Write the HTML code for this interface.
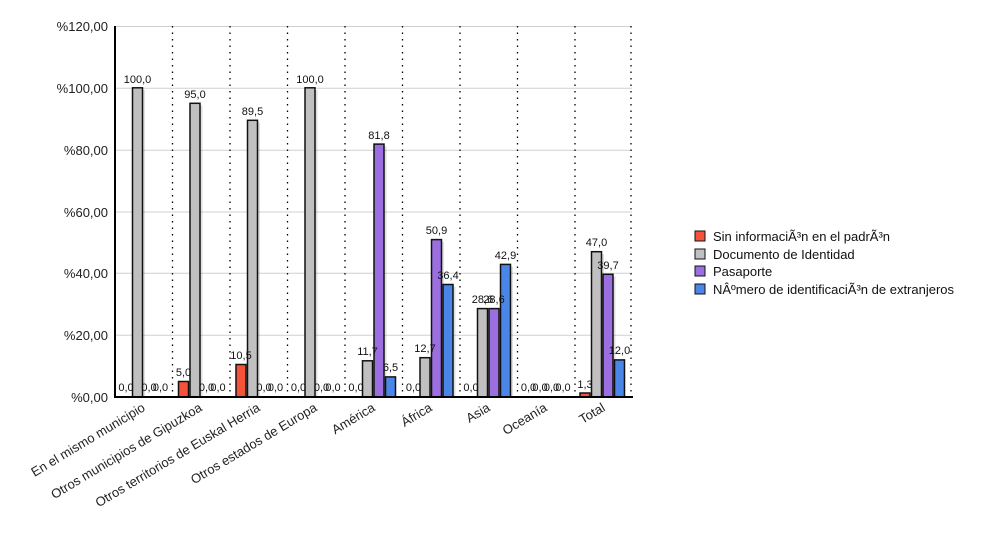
<!DOCTYPE html><html><head><style>body{margin:0;background:#fff}svg{display:block;font-family:"Liberation Sans",Arial,sans-serif}</style></head><body>
<svg width="1000" height="550" xmlns="http://www.w3.org/2000/svg">
<g stroke="#d0d0d0" stroke-width="1">
<line x1="115" x2="632" y1="26.5" y2="26.5"/><line x1="115" x2="632" y1="88.3" y2="88.3"/><line x1="115" x2="632" y1="150.2" y2="150.2"/><line x1="115" x2="632" y1="212" y2="212"/><line x1="115" x2="632" y1="273.3" y2="273.3"/><line x1="115" x2="632" y1="335.2" y2="335.2"/>
</g>
<g stroke="#000" stroke-width="1.3" stroke-dasharray="1.5,5">
<line x1="172.5" x2="172.5" y1="26" y2="397"/><line x1="230" x2="230" y1="26" y2="397"/><line x1="287.5" x2="287.5" y1="26" y2="397"/><line x1="345" x2="345" y1="26" y2="397"/><line x1="402.5" x2="402.5" y1="26" y2="397"/><line x1="460" x2="460" y1="26" y2="397"/><line x1="517.5" x2="517.5" y1="26" y2="397"/><line x1="575" x2="575" y1="26" y2="397"/><line x1="631" x2="631" y1="26" y2="397"/>
</g>
<g font-size="13" fill="#222" text-anchor="end">
<text x="108" y="31">%120,00</text><text x="108" y="93">%100,00</text><text x="108" y="155">%80,00</text><text x="108" y="217">%60,00</text><text x="108" y="278">%40,00</text><text x="108" y="340">%20,00</text><text x="108" y="402">%0,00</text>
</g>
<g fill="#000" opacity="0.12">
<rect x="135" y="90" width="10" height="307"/>
<rect x="192.5" y="105.5" width="10" height="291.5"/>
<rect x="250" y="122.5" width="10" height="274.5"/>
<rect x="307.5" y="90" width="10" height="307"/>
<rect x="376.5" y="146.3" width="10" height="250.7"/>
<rect x="434" y="241.8" width="10" height="155.2"/>
<rect x="445.5" y="286.7" width="10" height="110.3"/>
<rect x="503" y="266.6" width="10" height="130.4"/>
<rect x="594" y="253.9" width="10" height="143.1"/>
<rect x="605.5" y="276.5" width="10" height="120.5"/>
</g>
<g stroke="#111" stroke-width="1.5">
<rect x="132.5" y="87.8" width="10" height="309.2" fill="#c0c0c0"/>
<rect x="178.5" y="381.5" width="10" height="15.5" fill="#f4533a"/>
<rect x="190" y="103.3" width="10" height="293.7" fill="#c0c0c0"/>
<rect x="236" y="364.5" width="10" height="32.5" fill="#f4533a"/>
<rect x="247.5" y="120.3" width="10" height="276.7" fill="#c0c0c0"/>
<rect x="305" y="87.8" width="10" height="309.2" fill="#c0c0c0"/>
<rect x="362.5" y="360.8" width="10" height="36.2" fill="#c0c0c0"/>
<rect x="374" y="144.1" width="10" height="252.9" fill="#9b6fe0"/>
<rect x="385.5" y="376.9" width="10" height="20.1" fill="#4a86e8"/>
<rect x="420" y="357.7" width="10" height="39.3" fill="#c0c0c0"/>
<rect x="431.5" y="239.6" width="10" height="157.4" fill="#9b6fe0"/>
<rect x="443" y="284.5" width="10" height="112.5" fill="#4a86e8"/>
<rect x="477.5" y="308.6" width="10" height="88.4" fill="#c0c0c0"/>
<rect x="489" y="308.6" width="10" height="88.4" fill="#9b6fe0"/>
<rect x="500.5" y="264.4" width="10" height="132.6" fill="#4a86e8"/>
<rect x="580" y="393" width="10" height="4" fill="#f4533a"/>
<rect x="591.5" y="251.7" width="10" height="145.3" fill="#c0c0c0"/>
<rect x="603" y="274.3" width="10" height="122.7" fill="#9b6fe0"/>
<rect x="614.5" y="359.9" width="10" height="37.1" fill="#4a86e8"/>
</g>
<line x1="114" x2="633" y1="397" y2="397" stroke="#000" stroke-width="2"/>
<line x1="115" x2="115" y1="26" y2="398" stroke="#000" stroke-width="2"/>
<g font-size="11" fill="#111" text-anchor="middle">
<text x="126" y="391">0,0</text><text x="137.5" y="83">100,0</text><text x="149" y="391">0,0</text><text x="160.5" y="391">0,0</text>
<text x="183.5" y="376">5,0</text><text x="195" y="98">95,0</text><text x="206.5" y="391">0,0</text><text x="218" y="391">0,0</text>
<text x="241" y="359">10,5</text><text x="252.5" y="115">89,5</text><text x="264" y="391">0,0</text><text x="275.5" y="391">0,0</text>
<text x="298.5" y="391">0,0</text><text x="310" y="83">100,0</text><text x="321.5" y="391">0,0</text><text x="333" y="391">0,0</text>
<text x="356" y="391">0,0</text><text x="367.5" y="355">11,7</text><text x="379" y="139">81,8</text><text x="390.5" y="371">6,5</text>
<text x="413.5" y="391">0,0</text><text x="425" y="352">12,7</text><text x="436.5" y="234">50,9</text><text x="448" y="279">36,4</text>
<text x="471" y="391">0,0</text><text x="482.5" y="303">28,6</text><text x="494" y="303">28,6</text><text x="505.5" y="259">42,9</text>
<text x="528.5" y="391">0,0</text><text x="540" y="391">0,0</text><text x="551.5" y="391">0,0</text><text x="563" y="391">0,0</text>
<text x="585" y="388">1,3</text><text x="596.5" y="246">47,0</text><text x="608" y="269">39,7</text><text x="619.5" y="354">12,0</text>
</g>
<g font-size="13" fill="#222" text-anchor="end">
<text transform="translate(146,410) rotate(-31)">En el mismo municipio</text>
<text transform="translate(203,410) rotate(-31)">Otros municipios de Gipuzkoa</text>
<text transform="translate(261,410) rotate(-31)">Otros territorios de Euskal Herria</text>
<text transform="translate(318,410) rotate(-31)">Otros estados de Europa</text>
<text transform="translate(376,410) rotate(-31)">América</text>
<text transform="translate(433,410) rotate(-31)">África</text>
<text transform="translate(491,410) rotate(-31)">Asia</text>
<text transform="translate(548,410) rotate(-31)">Oceanía</text>
<text transform="translate(606,410) rotate(-31)">Total</text>
</g>
<g stroke="#111" stroke-width="1">
<rect x="695" y="231" width="10" height="10" fill="#f4533a"/>
<rect x="695" y="249" width="10" height="10" fill="#c0c0c0"/>
<rect x="695" y="266" width="10" height="10" fill="#9b6fe0"/>
<rect x="695" y="284" width="10" height="10" fill="#4a86e8"/>
</g>
<g font-size="13" fill="#111">
<text x="713" y="241">Sin informaciÃ³n en el padrÃ³n</text>
<text x="713" y="259">Documento de Identidad</text>
<text x="713" y="276">Pasaporte</text>
<text x="713" y="294">NÂºmero de identificaciÃ³n de extranjeros</text>
</g>
</svg></body></html>
